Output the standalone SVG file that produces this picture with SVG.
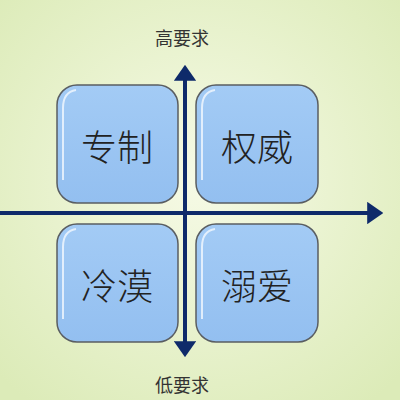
<svg xmlns="http://www.w3.org/2000/svg" width="400" height="400" viewBox="0 0 400 400">
<defs>
<radialGradient id="bg" cx="50%" cy="45%" r="70%">
<stop offset="0" stop-color="#f6fae6"/>
<stop offset="1" stop-color="#dcebb8"/>
</radialGradient>
<linearGradient id="box" x1="0" y1="0" x2="0" y2="1">
<stop offset="0" stop-color="#a3cbf5"/>
<stop offset="1" stop-color="#93bff0"/>
</linearGradient>
<marker id="ah" viewBox="0 0 10 10" refX="8" refY="5" markerWidth="4" markerHeight="5.6" orient="auto" markerUnits="strokeWidth" preserveAspectRatio="none">
<path d="M0,0 L10,5 L0,10 Z" fill="#0e2a6a"/>
</marker>
<style>
.b{fill:url(#box);stroke:#5a5e62;stroke-width:1.5}
.hl{fill:none;stroke:#ffffff;stroke-width:2;stroke-opacity:0.7}
.t{font-family:"Noto Sans CJK SC","Noto Sans",sans-serif;font-size:36px;fill:#222;text-anchor:middle;dominant-baseline:central;font-weight:300}
.l{font-family:"Noto Sans CJK SC","Noto Sans",sans-serif;font-size:18px;fill:#333;text-anchor:middle;dominant-baseline:central}
.ax{stroke:#0e2a6a;stroke-width:4;fill:none}
</style>
</defs>
<rect width="400" height="400" fill="url(#bg)"/>
<g id="n1"><rect class="b" x="57" y="85" width="121" height="118" rx="20"/><path class="hl" d="M63,180 L63,108 Q63,92 76,90"/><text class="t" x="117" y="145">专制</text></g>
<g id="n2"><rect class="b" x="196" y="85" width="122" height="118" rx="20"/><path class="hl" d="M202,180 L202,108 Q202,92 215,90"/><text class="t" x="257" y="145">权威</text></g>
<g id="n3"><rect class="b" x="57" y="224" width="121" height="118" rx="20"/><path class="hl" d="M63,319 L63,247 Q63,231 76,229"/><text class="t" x="117" y="284">冷漠</text></g>
<g id="n4"><rect class="b" x="196" y="224" width="122" height="118" rx="20"/><path class="hl" d="M202,319 L202,247 Q202,231 215,229"/><text class="t" x="257" y="284">溺爱</text></g>
<g id="connectors">
<line class="ax" x1="-10" y1="213" x2="380" y2="213" marker-end="url(#ah)"/>
<line class="ax" x1="185" y1="350" x2="185" y2="68" marker-end="url(#ah)"/>
<line class="ax" x1="185" y1="100" x2="185" y2="354" marker-end="url(#ah)"/>
</g>
<text class="l" x="182" y="37">高要求</text>
<text class="l" x="182" y="384">低要求</text>
</svg>
